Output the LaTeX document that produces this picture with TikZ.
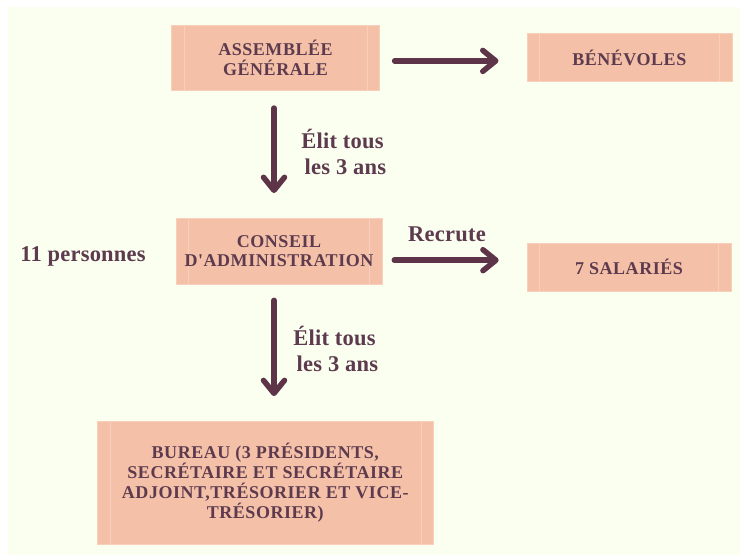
\documentclass[tikz,border=0pt]{standalone}
\usepackage{fontspec}
\setmainfont{Liberation Serif}
\newfontfamily\boxfont[LetterSpace=3]{Liberation Serif}
\newfontfamily\labfont[LetterSpace=1]{Liberation Serif}
\usetikzlibrary{arrows.meta}
\definecolor{bgc}{HTML}{FAFFF0}
\definecolor{boxfill}{HTML}{F4C1A8}
\definecolor{boxline}{HTML}{F7CFBB}
\definecolor{txt}{HTML}{5D3A4E}
\definecolor{arrc}{HTML}{5E3548}
\tikzset{
  orgbox/.style={fill=boxfill, draw=boxline, line width=0.6pt, inner sep=0pt,
    text=txt, align=center, font=\boxfont\bfseries\fontsize{18}{19.5}\selectfont,
    path picture={
      \draw[boxline, line width=0.6pt]
        ([xshift=12.5pt]path picture bounding box.north west) -- ([xshift=12.5pt]path picture bounding box.south west)
        ([xshift=-12.5pt]path picture bounding box.north east) -- ([xshift=-12.5pt]path picture bounding box.south east);
    }},
  lab/.style={text=txt, align=center, inner sep=0pt, font=\labfont\bfseries\fontsize{22.5}{25.5}\selectfont},
  arr/.style={draw=arrc, line width=5.5pt, line cap=round,
    -{Straight Barb[length=13pt,width=21pt,round]}}
}
\begin{document}
\begin{tikzpicture}[x=1pt,y=-1pt]
\useasboundingbox (0,0) rectangle (740,555);
\fill[bgc] (8,7) rectangle (740,555);

\node[orgbox, minimum width=207.6pt, minimum height=65.7pt] (ag) at (275.5,57.9) {ASSEMBLÉE\\GÉNÉRALE};
\node[orgbox, minimum width=205pt, minimum height=48.4pt] (ben) at (629.3,57.5) {BÉNÉVOLES};
\node[orgbox, minimum width=206pt, minimum height=65.7pt] (ca) at (279,251.2) {CONSEIL\\D'ADMINISTRATION};
\node[orgbox, minimum width=204pt, minimum height=48pt] (sal) at (629,267) {7 SALARIÉS};
\node[orgbox, minimum width=336pt, minimum height=122.6pt, font=\boxfont\bfseries\fontsize{18}{20}\selectfont] (bur) at (265.3,482.7)
  {BUREAU (3 PRÉSIDENTS,\\SECRÉTAIRE ET SECRÉTAIRE\\ADJOINT,TRÉSORIER ET VICE-\\TRÉSORIER)};

\node[lab] (el1) at (342.5,152) {Élit tous\\\ les 3 ans};
\node[lab] (el2) at (334.5,349) {Élit tous\\\ les 3 ans};
\node[lab] (recr) at (447,234) {Recrute};
\node[lab] (pers) at (83,256) {11 personnes};

\draw[arr, shorten <=15pt, shorten >=28pt] ([yshift=-3pt]ag.east) -- ([yshift=-3pt]ag.east -| ben.west);
\draw[arr, shorten <=17pt, shorten >=25pt] ([xshift=-1.5pt]ag.south) -- ([xshift=-1.5pt]ag.south |- ca.north);
\draw[arr, shorten <=12pt, shorten >=28pt] ([yshift=-9pt]ca.east) -- ([yshift=-9pt]ca.east -| sal.west);
\draw[arr, shorten <=16pt, shorten >=25pt] ([xshift=-5pt]ca.south) -- ([xshift=-5pt]ca.south |- bur.north);
\end{tikzpicture}
\end{document}
